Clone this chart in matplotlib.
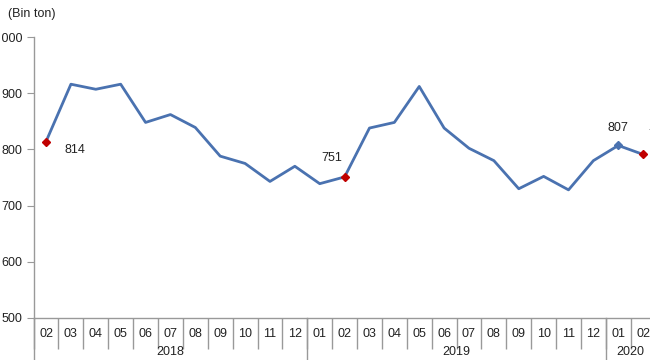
import matplotlib
matplotlib.use("Agg")
import matplotlib.pyplot as plt
from matplotlib.transforms import blended_transform_factory

months = ["02","03","04","05","06","07","08","09","10","11","12",
          "01","02","03","04","05","06","07","08","09","10","11","12",
          "01","02"]
values = [814, 916, 907, 916, 848, 862, 839, 788, 775, 743, 770,
          739, 751, 838, 848, 912, 838, 802, 780, 730, 752, 728, 780,
          807, 791]
years = ["2018", "2019", "2020"]
year_spans = [(0, 10), (11, 22), (23, 24)]
yticks = [500, 600, 700, 800, 900, 1000]
ytick_labels = ["500", "600", "700", "800", "900", "1 000"]

plt.rcParams['font.family'] = ['Liberation Sans', 'DejaVu Sans']
W, H = 650, 360
fig = plt.figure(figsize=(W/100, H/100), dpi=100)
left, right, top, bottom = 33.6, 655.6, 37, 318
ax = fig.add_axes([left/W, 1-bottom/H, (right-left)/W, (bottom-top)/H])
ax.set_xlim(-0.5, len(values)-0.5)
ax.set_ylim(500, 1000)

line_color = "#4a72b0"
red = "#c00000"
fs = 9
x = list(range(len(values)))
ax.plot(x, values, color=line_color, lw=2, zorder=3, clip_on=False)
for i in [0, 12, 24]:
    ax.plot(i, values[i], marker='D', ms=4.5, color=red, zorder=4, clip_on=False)
ax.plot(23, values[23], marker='D', ms=4, color=line_color, zorder=4)

txt_kw = dict(fontsize=fs, color="#222222")
ax.annotate(str(values[0]), (0, values[0]), xytext=(13, -6), textcoords='offset points', ha='left', va='center', **txt_kw)
ax.annotate(str(values[12]), (12, values[12]), xytext=(-2, 9), textcoords='offset points', ha='right', va='bottom', **txt_kw)
ax.annotate(str(values[23]), (23, values[23]), xytext=(0, 8), textcoords='offset points', ha='center', va='bottom', **txt_kw)
ax.annotate(str(values[24]), (24, values[24]), xytext=(4, 10), textcoords='offset points', ha='left', va='bottom', **txt_kw)

for s in ["top", "right"]:
    ax.spines[s].set_visible(False)
for s in ["left", "bottom"]:
    ax.spines[s].set_color("#999999")
    ax.spines[s].set_linewidth(1)

ax.set_yticks(yticks)
ax.set_yticklabels(ytick_labels)
ax.tick_params(axis='y', length=5, color="#999999", labelsize=fs, labelcolor="#222222", pad=3)

ax.set_xticks([i - 0.5 for i in range(len(values)+1)])
ax.set_xticklabels([])
ax.tick_params(axis='x', which='major', length=22, color="#999999", width=1)
ax.set_xticks(x, minor=True)
ax.set_xticklabels(months, minor=True)
ax.tick_params(axis='x', which='minor', length=0, labelsize=fs, labelcolor="#222222", pad=7)

trans = blended_transform_factory(ax.transData, ax.transAxes)
dy = 1/(bottom-top)
for (a, b), yr in zip(year_spans, years):
    ax.text((a+b)/2, -34*dy, yr, transform=trans, ha='center', va='center', fontsize=fs, color="#222222")
for sep in [10.5, 22.5]:
    ax.plot([sep, sep], [0, -45*dy], transform=trans, color="#999999", lw=1, clip_on=False)
ax.plot([-0.5, -0.5], [0, -45*dy], transform=trans, color="#999999", lw=1, clip_on=False)

fig.text(8/W, 1-14/H, "(Bin ton)", fontsize=fs, color="#222222", ha='left', va='center')

fig.savefig("out.png", dpi=100)
